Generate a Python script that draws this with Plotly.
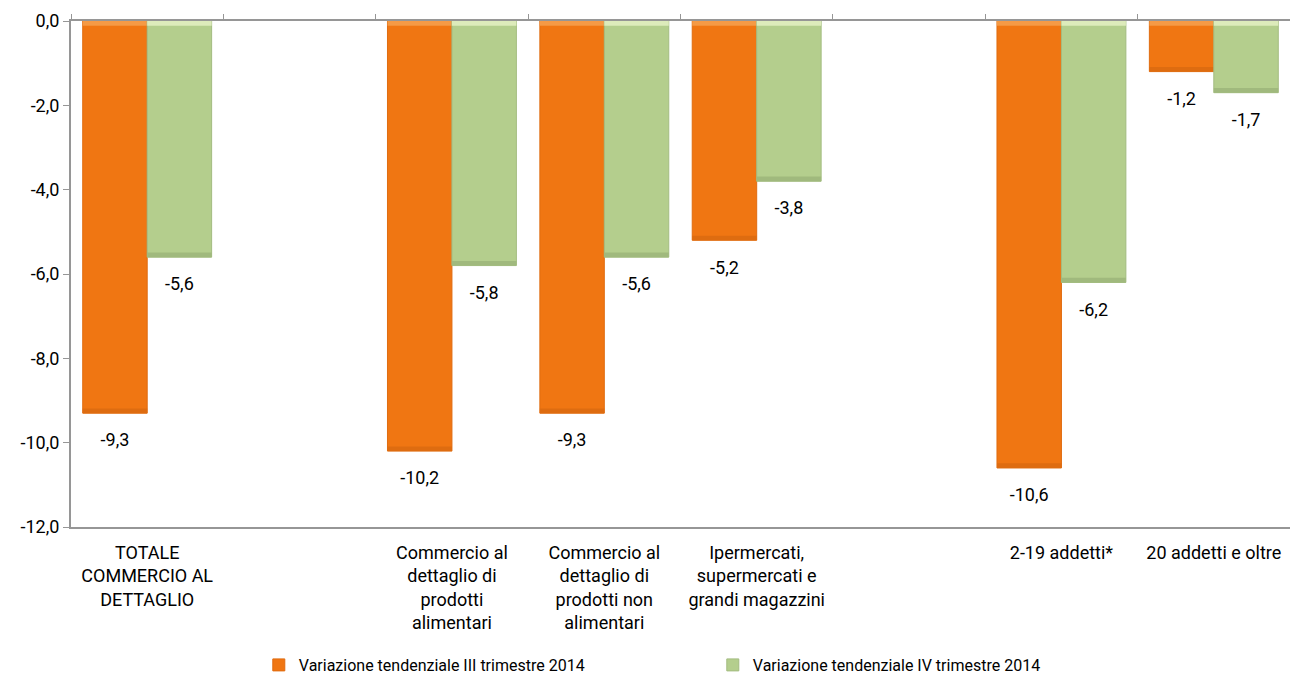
import plotly.graph_objects as go

# Category slots (two empty spacer slots separate the groups)
categories = [
    "TOTALE<br>COMMERCIO AL<br>DETTAGLIO",
    " ",
    "Commercio al<br>dettaglio di<br>prodotti<br>alimentari",
    "Commercio al<br>dettaglio di<br>prodotti non<br>alimentari",
    "Ipermercati,<br>supermercati e<br>grandi magazzini",
    "  ",
    "2-19 addetti*",
    "20 addetti e oltre",
]
bar_categories = [categories[i] for i in (0, 2, 3, 4, 6, 7)]

series_names = [
    "Variazione tendenziale III trimestre 2014",
    "Variazione tendenziale IV trimestre 2014",
]
q3_values = [-9.3, -10.2, -9.3, -5.2, -10.6, -1.2]
q4_values = [-5.6, -5.8, -5.6, -3.8, -6.2, -1.7]

y_tick_values = [0, -2, -4, -6, -8, -10, -12]
y_tick_labels = ["0,0", "-2,0", "-4,0", "-6,0", "-8,0", "-10,0", "-12,0"]

# body, light top bevel, dark bottom bevel, outline
palettes = [
    dict(body="#F07612", top="#F59A45", bottom="#DE6C10", edge="#E06C10"),
    dict(body="#B4CE8D", top="#DDEBBB", bottom="#A0B97D", edge="#A3BC80"),
]
BEVEL = 0.11  # bevel band thickness in axis units

FONT = "Roboto"
AXIS_GRAY = "#969696"

fig = go.Figure()

for name, vals, pal, grp in zip(series_names, [q3_values, q4_values],
                                palettes, ["a", "b"]):
    fig.add_trace(go.Bar(
        x=bar_categories, y=vals, name=name, offsetgroup=grp,
        marker=dict(color=pal["body"], line=dict(color=pal["edge"], width=1)),
        hoverinfo="skip",
    ))
    # bevel bands at the top and at the end of each bar
    fig.add_trace(go.Bar(
        x=bar_categories, y=[-BEVEL] * len(vals), base=[0] * len(vals),
        offsetgroup=grp, marker=dict(color=pal["top"], line=dict(width=0)),
        showlegend=False, hoverinfo="skip",
    ))
    fig.add_trace(go.Bar(
        x=bar_categories, y=[-BEVEL] * len(vals), base=[v + BEVEL for v in vals],
        offsetgroup=grp, marker=dict(color=pal["bottom"], line=dict(width=0)),
        showlegend=False, hoverinfo="skip",
    ))
    # value labels below the end of each bar
    fig.add_trace(go.Scatter(
        x=bar_categories, y=vals, offsetgroup=grp, mode="markers+text",
        marker=dict(size=30, opacity=0),
        texttemplate="%{y:.1f}", textposition="bottom center",
        textfont=dict(family=FONT, size=18, color="#000000"),
        showlegend=False, hoverinfo="skip",
    ))

# invisible trace carrying the top category axis (boundary ticks)
fig.add_trace(go.Scatter(x=categories, y=[None] * len(categories),
                         xaxis="x2", showlegend=False, hoverinfo="skip"))

fig.update_layout(
    width=1290, height=682,
    margin=dict(l=71, r=0, t=21, b=154),
    paper_bgcolor="white", plot_bgcolor="white",
    separators=",.",
    barmode="group", scattermode="group",
    bargap=0.154, bargroupgap=0.0, scattergap=0.154,
    font=dict(family=FONT, size=18, color="#000000"),
    xaxis=dict(
        type="category", categoryorder="array", categoryarray=categories,
        showline=False, ticks="", showgrid=False, zeroline=False,
        ticklabelstandoff=13,
        tickfont=dict(family=FONT, size=18, color="#000000"),
    ),
    xaxis2=dict(
        type="category", categoryorder="array", categoryarray=categories,
        overlaying="x", matches="x", side="top", anchor="y",
        showline=True, linecolor=AXIS_GRAY, linewidth=2,
        ticks="outside", tickson="boundaries", ticklen=5,
        tickcolor=AXIS_GRAY, tickwidth=1,
        showticklabels=False, showgrid=False, zeroline=False,
        mirror=True,
    ),
    yaxis=dict(
        range=[-12, 0], tickmode="array",
        tickvals=y_tick_values, ticktext=y_tick_labels,
        showline=True, linecolor=AXIS_GRAY, linewidth=2,
        ticks="outside", ticklen=6, tickcolor=AXIS_GRAY, tickwidth=1,
        showgrid=False, zeroline=False,
        tickfont=dict(family=FONT, size=18, color="#000000"),
    ),
    legend=dict(
        orientation="h", x=0.5265, xanchor="center", y=-0.272, yanchor="middle",
        font=dict(family=FONT, size=16, color="#000000"),
        entrywidth=409, itemwidth=30,
        traceorder="normal",
    ),
)

fig.write_html("out.html")
